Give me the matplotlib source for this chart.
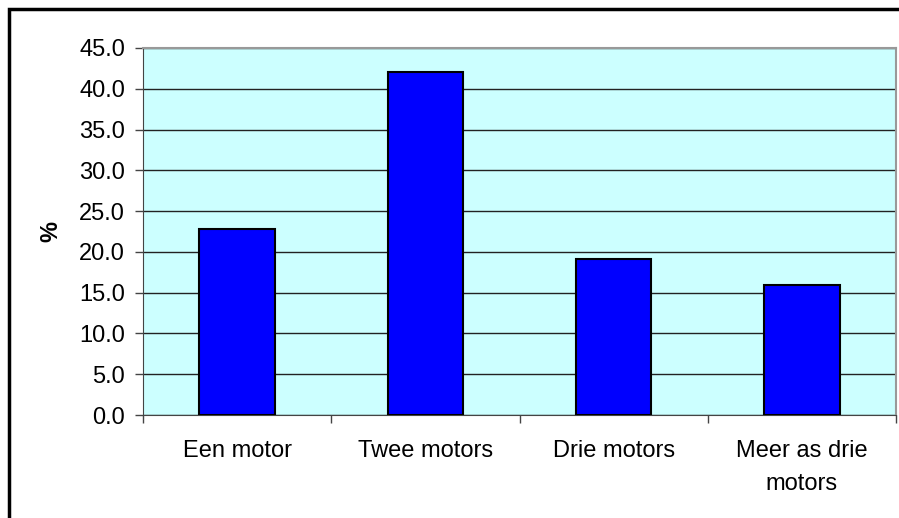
import numpy as np
import matplotlib.pyplot as plt
from matplotlib.patches import Rectangle

# data
categories = ['Een motor', 'Twee motors', 'Drie motors', 'Meer as drie\nmotors']
values = [22.8, 42.0, 19.1, 15.9]
yticks = np.arange(0, 45.1, 5)

plt.rcParams['font.family'] = ['Liberation Sans', 'DejaVu Sans']

fig = plt.figure(figsize=(8.99, 5.18), dpi=100)
ax = fig.add_axes([143 / 899, 103 / 518, 753 / 899, 367 / 518])
ax.set_facecolor('#CCFFFF')

x = np.arange(len(categories))
ax.bar(x, values, width=0.4, color='#0000FF', edgecolor='black', linewidth=1.5, zorder=3)

ax.set_xlim(-0.5, len(categories) - 0.5)
ax.set_ylim(0, 45)
ax.set_yticks(yticks)
ax.set_yticklabels([f'{v:.1f}' for v in yticks])
ax.yaxis.grid(True, color='#222222', linewidth=1)
ax.set_axisbelow(True)

ax.set_xticks(x)
ax.set_xticklabels(categories, linespacing=1.65)
ax.set_xticks(np.arange(-0.5, len(categories)), minor=True)
ax.tick_params(axis='x', which='major', length=0, pad=18, labelsize=17)
ax.tick_params(axis='x', which='minor', length=6, width=1, color='#444444')
ax.tick_params(axis='y', length=6, width=1, color='#444444', pad=7, labelsize=17)

for side in ['top', 'right']:
    ax.spines[side].set_color('#999999')
    ax.spines[side].set_linewidth(1.5)
for side in ['left', 'bottom']:
    ax.spines[side].set_color('#444444')

ax.set_ylabel('%', fontsize=17, fontweight='bold', labelpad=12)

# chart border
fig.patches.append(Rectangle((9 / 899, -0.1), 1.2, (509 / 518) + 0.1, transform=fig.transFigure,
                             fill=False, edgecolor='black', linewidth=2.5))

fig.savefig('out.png', dpi=100)
